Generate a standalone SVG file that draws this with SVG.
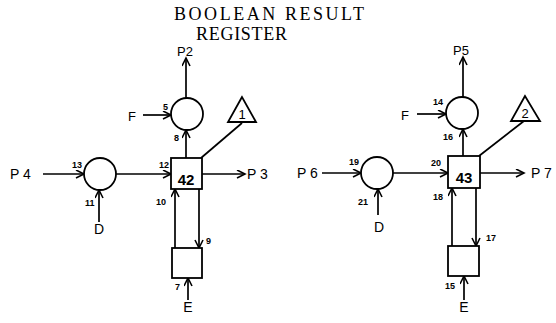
<svg xmlns="http://www.w3.org/2000/svg" width="556" height="323" viewBox="0 0 556 323">
<defs>
<marker id="arr" markerUnits="userSpaceOnUse" markerWidth="12" markerHeight="12" refX="9" refY="4.5" orient="auto">
<path d="M1,0.5 L9,4.5 L1,8.5" fill="none" stroke="#000" stroke-width="1.6"/>
</marker>
<style>
.ln{stroke:#000;stroke-width:1.7;fill:none}
.ar{stroke:#000;stroke-width:1.7;fill:none;marker-end:url(#arr)}
.sh{stroke:#000;stroke-width:1.8;fill:#fff}
.t{font-family:"Liberation Sans",Arial,sans-serif;fill:#000}
.lb{font-size:14px}
.sm{font-size:13px}
.n{font-size:9px;font-weight:bold}
.big{font-size:15px;font-weight:bold}
.title{font-family:"Liberation Serif","Times New Roman",serif;font-size:18px;fill:#000}
</style>
</defs>
<rect width="556" height="323" fill="#fff"/>
<g id="title">
<text class="title" x="174" y="20" textLength="190" lengthAdjust="spacing">BOOLEAN RESULT</text>
<text class="title" x="196" y="39.5" textLength="91" lengthAdjust="spacing">REGISTER</text>
</g>
<g id="connectors">
<line class="ar" x1="186" y1="98" x2="186" y2="58"/>
<line class="ar" x1="143" y1="115" x2="171" y2="115"/>
<line class="ar" x1="186" y1="158" x2="186" y2="130"/>
<line class="ln" x1="201" y1="158" x2="242" y2="123"/>
<line class="ar" x1="43" y1="174" x2="84" y2="174"/>
<line class="ar" x1="99" y1="222" x2="99" y2="190"/>
<line class="ar" x1="116" y1="174" x2="171" y2="174"/>
<line class="ar" x1="202" y1="174" x2="245" y2="174"/>
<line class="ar" x1="175" y1="248" x2="175" y2="189"/>
<line class="ar" x1="199" y1="189" x2="199" y2="248"/>
<line class="ar" x1="188" y1="300" x2="188" y2="278"/>
<line class="ar" x1="463" y1="97" x2="463" y2="57"/>
<line class="ar" x1="417" y1="114" x2="446" y2="114"/>
<line class="ar" x1="463" y1="156" x2="463" y2="129"/>
<line class="ln" x1="479" y1="156" x2="524" y2="121"/>
<line class="ar" x1="322" y1="173" x2="361" y2="173"/>
<line class="ar" x1="378" y1="215" x2="378" y2="189"/>
<line class="ar" x1="393" y1="173" x2="448" y2="173"/>
<line class="ar" x1="480" y1="173" x2="524" y2="173"/>
<line class="ar" x1="452" y1="246" x2="452" y2="188"/>
<line class="ar" x1="476" y1="188" x2="476" y2="246"/>
<line class="ar" x1="464" y1="300" x2="464" y2="276"/>
</g>
<g id="n42">
<rect class="sh" x="171" y="158" width="31" height="31"/>
<text class="t big" x="186" y="185" text-anchor="middle">42</text>
</g>
<g id="circleA">
<circle class="sh" cx="187" cy="114" r="16"/>
</g>
<g id="circleB">
<circle class="sh" cx="100" cy="174" r="16"/>
</g>
<g id="boxA">
<rect class="sh" x="172" y="248" width="30" height="30"/>
</g>
<g id="tri1">
<polygon class="sh" points="242,97 228,122 256,122"/>
<text class="t sm" x="242" y="119" text-anchor="middle">1</text>
</g>
<g id="n43">
<rect class="sh" x="448" y="156" width="32" height="32"/>
<text class="t big" x="464" y="183" text-anchor="middle">43</text>
</g>
<g id="circleC">
<circle class="sh" cx="462" cy="113" r="16"/>
</g>
<g id="circleD">
<circle class="sh" cx="377" cy="173" r="16"/>
</g>
<g id="boxB">
<rect class="sh" x="448" y="246" width="31" height="30"/>
</g>
<g id="tri2">
<polygon class="sh" points="525,96 511,121 540,121"/>
<text class="t sm" x="525" y="118" text-anchor="middle">2</text>
</g>
<g id="labels">
<text class="t sm" x="185" y="56" text-anchor="middle">P2</text>
<text class="t sm" x="128" y="121">F</text>
<text class="t n" x="163" y="110">5</text>
<text class="t n" x="174" y="141">8</text>
<text class="t lb" x="10" y="179">P 4</text>
<text class="t n" x="72" y="168">13</text>
<text class="t n" x="85" y="206">11</text>
<text class="t lb" x="99" y="234" text-anchor="middle">D</text>
<text class="t n" x="159" y="168">12</text>
<text class="t lb" x="247" y="179">P 3</text>
<text class="t n" x="156" y="205">10</text>
<text class="t n" x="206" y="244">9</text>
<text class="t n" x="175" y="290">7</text>
<text class="t lb" x="188" y="312" text-anchor="middle">E</text>
<text class="t sm" x="461" y="55" text-anchor="middle">P5</text>
<text class="t sm" x="401" y="120">F</text>
<text class="t n" x="433" y="105">14</text>
<text class="t n" x="443" y="140">16</text>
<text class="t lb" x="297" y="178">P 6</text>
<text class="t n" x="349" y="165">19</text>
<text class="t n" x="358" y="205">21</text>
<text class="t lb" x="379" y="232" text-anchor="middle">D</text>
<text class="t n" x="431" y="166">20</text>
<text class="t lb" x="531" y="178">P 7</text>
<text class="t n" x="433" y="200">18</text>
<text class="t n" x="486" y="241">17</text>
<text class="t n" x="445" y="289">15</text>
<text class="t lb" x="464" y="312" text-anchor="middle">E</text>
</g>
</svg>
